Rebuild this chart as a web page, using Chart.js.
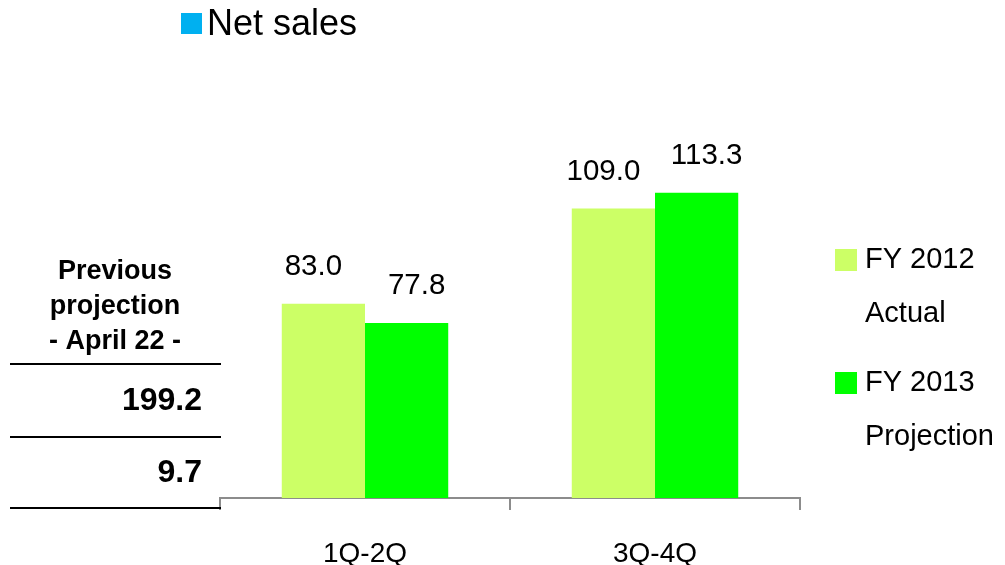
<!DOCTYPE html>
<html lang="en">
<head>
<meta charset="UTF-8">
<title>Net sales</title>
<script src="https://cdn.jsdelivr.net/npm/chart.js"></script>
<style>
    html, body {
        margin: 0;
        padding: 0;
        background: #ffffff;
    }
    .wrap {
        position: relative;
        width: 1005px;
        height: 565px;
    }
</style>
</head>
<body>
<div class="wrap">
    <canvas id="salesChart" width="1005" height="565"></canvas>
</div>
<script>
// half-year periods and net sales (billion yen)
const periods = ['1Q-2Q', '3Q-4Q'];
const fy2012Actual = [83.0, 109.0];
const fy2013Projection = [77.8, 113.3];
const seriesNames = [['FY 2012', 'Actual'], ['FY 2013', 'Projection']];
const seriesColors = ['#CCFF66', '#00FF00'];

// previous projection table on the left
const prevHeader = ['Previous', 'projection', '- April 22 -'];
const prevValues = ['199.2', '9.7'];

const FONT = '"Liberation Sans", Arial, sans-serif';

// title, legend, value labels and the side table
const decorations = {
    id: 'decorations',
    afterDatasetsDraw(chart) {
        const ctx = chart.ctx;
        ctx.save();

        // value labels above the bars, nudged outward per series
        const nudge = [-10, 10];
        ctx.fillStyle = '#000';
        ctx.font = '29.5px ' + FONT;
        ctx.textAlign = 'center';
        ctx.textBaseline = 'middle';
        chart.data.datasets.forEach((ds, i) => {
            chart.getDatasetMeta(i).data.forEach((bar, j) => {
                ctx.fillText(ds.data[j].toFixed(1), bar.x + nudge[i], bar.y - 37);
            });
        });

        // title
        ctx.fillStyle = '#00B0F0';
        ctx.fillRect(181, 13, 21, 21);
        ctx.fillStyle = '#000';
        ctx.textAlign = 'left';
        ctx.font = '36px ' + FONT;
        ctx.fillText('Net sales', 207, 25);

        // legend
        ctx.font = '29px ' + FONT;
        const legendTop = [260, 383];
        seriesNames.forEach((lines, i) => {
            const y = legendTop[i];
            ctx.fillStyle = seriesColors[i];
            ctx.fillRect(835, y - 11, 22, 22);
            ctx.fillStyle = '#000';
            ctx.fillText(lines[0], 865, y);
            ctx.fillText(lines[1], 865, y + 54);
        });

        // previous projection table
        ctx.font = 'bold 27px ' + FONT;
        ctx.textAlign = 'center';
        prevHeader.forEach((t, i) => {
            ctx.fillText(t, 115, 272 + i * 35);
        });
        ctx.strokeStyle = '#000';
        ctx.lineWidth = 2;
        [364, 437, 508].forEach(y => {
            ctx.beginPath();
            ctx.moveTo(10, y);
            ctx.lineTo(221, y);
            ctx.stroke();
        });
        ctx.font = 'bold 32px ' + FONT;
        ctx.textAlign = 'right';
        ctx.fillText(prevValues[0], 202, 401);
        ctx.fillText(prevValues[1], 202, 473);

        ctx.restore();
    }
};

new Chart(document.getElementById('salesChart'), {
    type: 'bar',
    data: {
        labels: periods,
        datasets: [{
            label: seriesNames[0].join(' '),
            data: fy2012Actual,
            backgroundColor: seriesColors[0],
            categoryPercentage: 0.574,
            barPercentage: 1.0
        }, {
            label: seriesNames[1].join(' '),
            data: fy2013Projection,
            backgroundColor: seriesColors[1],
            categoryPercentage: 0.574,
            barPercentage: 1.0
        }]
    },
    options: {
        responsive: false,
        animation: false,
        layout: {
            padding: { left: 220, right: 205, top: 95, bottom: 0 }
        },
        scales: {
            x: {
                grid: {
                    offset: true,
                    drawOnChartArea: false,
                    drawTicks: true,
                    tickLength: 12,
                    color: '#8C8C8C',
                    lineWidth: 2
                },
                border: { display: true, color: '#8C8C8C', width: 2 },
                ticks: {
                    color: '#000',
                    font: { family: FONT, size: 28 },
                    padding: 27
                },
                afterFit(scale) {
                    scale.height = 67;
                }
            },
            y: {
                display: false,
                min: 30,
                max: 140
            }
        },
        plugins: {
            legend: { display: false },
            tooltip: { enabled: false }
        }
    },
    plugins: [decorations]
});
</script>
</body>
</html>
